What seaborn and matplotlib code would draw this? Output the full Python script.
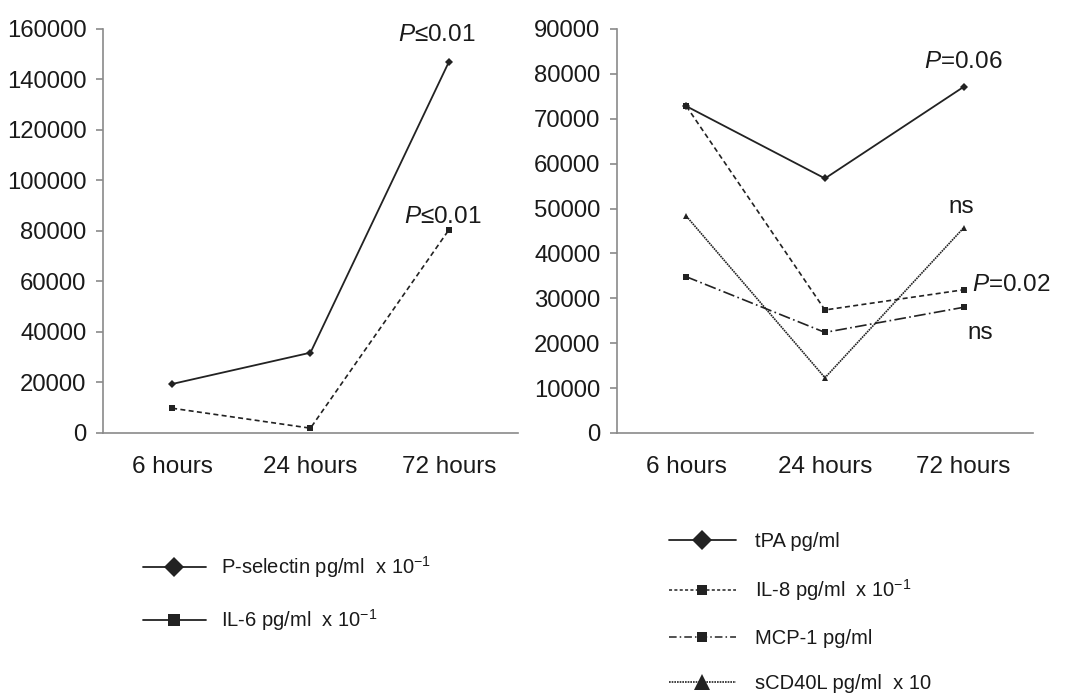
import matplotlib
matplotlib.use("Agg")
import matplotlib.pyplot as plt
import seaborn as sns
import pandas as pd
from matplotlib.lines import Line2D

# ---- data ----
times = ["6 hours", "24 hours", "72 hours"]
pselectin = [19400, 31800, 146900]
il6 = [9800, 1900, 80400]
tpa = [72800, 56700, 77100]
il8 = [72800, 27400, 31900]
mcp1 = [34800, 22400, 28000]
scd40l = [48300, 12300, 45700]

left_labels = ["P-selectin pg/ml  x 10$^{-1}$", "IL-6 pg/ml  x 10$^{-1}$"]
right_labels = ["tPA pg/ml", "IL-8 pg/ml  x 10$^{-1}$", "MCP-1 pg/ml", "sCD40L pg/ml  x 10"]

sns.set_theme(style="white")
plt.rcParams["font.family"] = ["Liberation Sans", "DejaVu Sans"]
plt.rcParams["mathtext.fontset"] = "custom"
plt.rcParams["mathtext.rm"] = "Liberation Sans"
plt.rcParams["mathtext.it"] = "Liberation Sans:italic"

TXT = "#1a1a1a"
AX = "#8a8a8a"
LC = "#222222"

fig = plt.figure(figsize=(10.68, 6.98), dpi=100)
axL = fig.add_axes([0.0964, 0.3797, 0.3886, 0.5788])
axR = fig.add_axes([0.5777, 0.3797, 0.3895, 0.5788])

def style_axis(ax, ymax, step):
    ax.set_xlim(-0.5, 2.5)
    ax.set_ylim(0, ymax)
    ax.set_yticks(range(0, ymax + 1, step))
    for s in ["top", "right"]:
        ax.spines[s].set_visible(False)
    for s in ["left", "bottom"]:
        ax.spines[s].set_color(AX)
        ax.spines[s].set_linewidth(1.2)
    ax.set_xticks([-0.5, 0.5, 1.5, 2.5], minor=True)
    ax.tick_params(axis="x", which="major", length=0, pad=16.5, labelsize=17.5, labelcolor=TXT)
    ax.tick_params(axis="x", which="minor", length=6.5, width=1.2, color=AX, direction="out")
    ax.tick_params(axis="y", which="major", left=True, length=5, width=1.2, color=AX, pad=7,
                   labelsize=17.2, labelcolor=TXT, direction="out")
    ax.set_xlabel("")
    ax.set_ylabel("")

def draw(ax, vals, ls, marker, ms, lw):
    df = pd.DataFrame({"time": times, "value": vals})
    sns.lineplot(data=df, x="time", y="value", ax=ax, color=LC, linestyle=ls, lw=lw,
                 marker=marker, markersize=ms, markeredgewidth=0, sort=False)

# left panel
draw(axL, pselectin, "-", "D", 4, 1.3)
draw(axL, il6, (0, (3, 2)), "s", 4.5, 1.2)
style_axis(axL, 160000, 20000)

# right panel
draw(axR, tpa, "-", "D", 4, 1.3)
draw(axR, il8, (0, (3, 2)), "s", 4.5, 1.2)
draw(axR, mcp1, (0, (7, 2, 1, 2)), "s", 4.5, 1.2)
draw(axR, scd40l, (0, (1, 0.5)), "^", 5, 1.2)
style_axis(axR, 90000, 10000)

# annotations
FS = 17.5
axL.text(1.91, 153300, "$\\mathit{P}$≤0.01", fontsize=FS, color=TXT, ha="center", va="bottom")
axL.text(1.96, 81300, "$\\mathit{P}$≤0.01", fontsize=FS, color=TXT, ha="center", va="bottom")
axR.text(2.0, 80200, "$\\mathit{P}$=0.06", fontsize=FS, color=TXT, ha="center", va="bottom")
axR.text(1.98, 48000, "ns", fontsize=FS, color=TXT, ha="center", va="bottom")
axR.text(2.06, 30500, "$\\mathit{P}$=0.02", fontsize=FS, color=TXT, ha="left", va="bottom")
axR.text(2.12, 19800, "ns", fontsize=FS, color=TXT, ha="center", va="bottom")

# legends
LFS = 14.5
hl = [Line2D([], [], color=LC, lw=1.3, ls="-", marker="D", markersize=10, markeredgewidth=0),
      Line2D([], [], color=LC, lw=1.3, ls="-", marker="s", markersize=8, markeredgewidth=0)]
legL = fig.legend(hl, left_labels, loc="upper left", bbox_to_anchor=(0.117, 0.232),
                  frameon=False, fontsize=LFS, handlelength=3.1,
                  handletextpad=0.75, labelspacing=1.35, labelcolor=TXT)

hr = [Line2D([], [], color=LC, lw=1.3, ls="-", marker="D", markersize=10, markeredgewidth=0),
      Line2D([], [], color=LC, lw=1.1, ls=(0, (2, 1.5)), marker="s", markersize=7, markeredgewidth=0),
      Line2D([], [], color=LC, lw=1.1, ls=(0, (5, 2, 1, 2)), marker="s", markersize=7, markeredgewidth=0),
      Line2D([], [], color=LC, lw=1.2, ls=(0, (1, 0.6)), marker="^", markersize=11, markeredgewidth=0)]
legR = fig.legend(hr, right_labels, loc="upper left", bbox_to_anchor=(0.609, 0.264),
                  frameon=False, fontsize=LFS, handlelength=3.35,
                  handletextpad=0.95, labelspacing=1.3, labelcolor=TXT)

fig.savefig("out.png", dpi=100)
